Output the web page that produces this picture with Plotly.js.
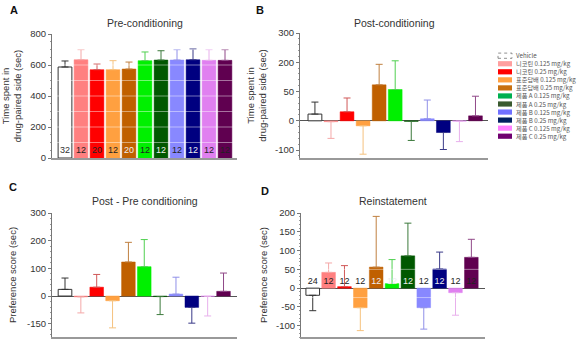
<!DOCTYPE html>
<html><head><meta charset="utf-8">
<script src="https://cdn.plot.ly/plotly-3.0.1.min.js"></script>
<style>html,body{margin:0;padding:0;background:#fff}#chart{width:585px;height:344px}</style>
</head><body><div id="chart"></div>
<script>
// ---- data ----
const categories = ['Vehicle','니코틴 0.125 mg/kg','니코틴 0.25 mg/kg','표준담배 0.125 mg/kg','표준담배 0.25 mg/kg','제품 A 0.125 mg/kg','제품 A 0.25 mg/kg','제품 B 0.125 mg/kg','제품 B 0.25 mg/kg','제품 C 0.125 mg/kg','제품 C 0.25 mg/kg'];
const barColors = ['#ffffff','#ff8080','#ff0000','#ffa040','#c06000','#00f000','#005800','#8888ff','#000080','#e080f0','#600050'];
const errColors = ['#333333','#f4a8a8','#d05858','#f5c27e','#c08040','#50d050','#3c7a3c','#9090e8','#3a3a88','#e8b0ec','#904888'];
const legendColors = ['#ffffff','#ff9f9f','#ff0000','#ffa040','#c87010','#00b050','#3a5a30','#7070ff','#002060','#ff80ff','#700070'];
const labelColors = ['#333','#222','#222','#222','#eee','#222','#eee','#222','#eee','#222','#222'];

const preMean  = [587,634,570,570,574,628,632,632,634,630,630];
const preErr   = [39,65,36,58,45,56,60,67,69,69,69];
const postMean = [23,-3,31,-17,123,107,-2,7,-40,-1,17];
const postErr  = [41,57,47,97,70,98,65,64,58,70,67];
const diffMean = [24,-3,32,-17,123,106,-2,7,-41,-1,17];
const diffErr  = [41,58,46,98,71,98,65,61,57,71,66];
const reinMean = [-19,42,4,-52,56,12,86,-52,51,-12,82];
const reinErr  = [41,25,56,61,135,64,87,57,45,60,48];
const preN  = ['32','12','20','12','20','12','12','12','12','12','12'];
const reinN = ['24','12','12','12','12','12','12','12','12','12','12'];

const panelTitles = ['Pre-conditioning','Post-conditioning','Post - Pre conditioning','Reinstatement'];
const panelLetters = ['A','B','C','D'];
const yTitles = ['Time spent in<br>drug-paired side (sec)','Time spent in<br>drug-paired side (sec)','Preference score (sec)','Preference score (sec)'];
const yTickVals = [[0,200,400,600,800],[-100,0,100,200,300],[-100,0,100,200,300],[-100,-50,0,50,100,150,200]];
const yTickText = [['0','200','400','600','800'],['-100','0','50','200','300'],['-150','0','100','200','300'],['-100','-50','0','50','100','150','200']];

// ---- layout geometry ----
const W = 585, H = 344;
const px = (a,b) => [a/W, b/W];
const py = (top,bot) => [1-bot/H, 1-top/H];
const panels = [
  {xd: px(52,237),  yd: py(34,158),  xr:[-0.8125,10.75], yr:[0,800],   mean:preMean,  err:preErr},
  {xd: px(300,488), yd: py(33,158),  xr:[-0.93,10.78],   yr:[-127,300], mean:postMean, err:postErr},
  {xd: px(52,237),  yd: py(213,337), xr:[-0.82,10.85],   yr:[-148,300], mean:diffMean, err:diffErr},
  {xd: px(301,485), yd: py(213,337), xr:[-0.74,10.86],   yr:[-130,200], mean:reinMean, err:reinErr}
];
const font = 'Liberation Sans, Arial, sans-serif';
const xIdx = categories.map((c,i)=>i);

const traces = [];
const layout = {
  width: W, height: H, margin:{l:0,r:0,t:0,b:0},
  paper_bgcolor:'#fff', plot_bgcolor:'rgba(0,0,0,0)',
  barmode:'overlay', showlegend:false, bargap:0,
  font:{family:font, size:9, color:'#333'},
  annotations:[], shapes:[]
};

panels.forEach((p,k)=>{
  const sfx = k===0 ? '' : String(k+1);
  const xa = 'x'+sfx, ya = 'y'+sfx;
  categories.forEach((c,i)=>{
    const v = p.mean[i], e = p.err[i];
    traces.push({
      type:'bar', x:[xIdx[i]], y:[v], width:0.86, name:c, xaxis:xa, yaxis:ya,
      marker:{color:barColors[i], line:{color: i===0 ? '#333' : barColors[i], width: i===0 ? 1 : 0.5}},
      error_y:{type:'data', symmetric:false, array:[v>=0?e:0], arrayminus:[v>=0?0:e], color:errColors[i], thickness:1, width:3.5},
      hoverinfo:'skip'
    });
  });
  layout['xaxis'+sfx] = {domain:p.xd, anchor:ya, range:p.xr, showgrid:false, zeroline:false, showticklabels:false, ticks:'', showline:true, linecolor:'#999', linewidth:1.5, fixedrange:true};
  layout['yaxis'+sfx] = {domain:p.yd, anchor:xa, range:p.yr, showgrid:false, tickvals:yTickVals[k], ticktext:yTickText[k],
    zeroline: k>0, zerolinecolor:'#555', zerolinewidth:1,
    showline:true, linecolor:'#777', linewidth:1, ticks:'outside', ticklen:3, tickcolor:'#777', tickfont:{size:9.5, color:'#333'},
    minor:{ticks:'outside', ticklen:1.5, tickcolor:'#999', nticks:8},
    title:{text:yTitles[k], font:{size:9.5, color:'#333'}, standoff: k%2===0 ? 8 : 6}, automargin:false, fixedrange:true};
  layout.annotations.push({xref:'paper', yref:'paper', x:(p.xd[0]+p.xd[1])/2, y: k<2 ? 1-23/H : 1-201/H, text:panelTitles[k], showarrow:false, font:{size:10.5, color:'#333'}, xanchor:'center', yanchor:'middle'});
});
// letters
[[14,10],[260,10],[13,187],[265,191]].forEach((pt,k)=>{
  layout.annotations.push({xref:'paper', yref:'paper', x:pt[0]/W, y:1-pt[1]/H, text:'<b>'+panelLetters[k]+'</b>', showarrow:false, font:{size:11, color:'#111'}, xanchor:'center', yanchor:'middle'});
});
// n labels
traces.push({type:'scatter', mode:'text', x:xIdx, y:xIdx.map(()=>50), text:preN, textfont:{size:9, color:labelColors, family:font}, xaxis:'x', yaxis:'y', hoverinfo:'skip', cliponaxis:false});
const reinLabelColors = ['#222','#222','#222','#222','#eee','#eee','#eee','#222','#eee','#222','#222'];
traces.push({type:'scatter', mode:'text', x:xIdx, y:xIdx.map(()=>17), text:reinN, textfont:{size:9, color:reinLabelColors, family:font}, xaxis:'x4', yaxis:'y4', hoverinfo:'skip', cliponaxis:false});

// faint lines over bars
[100,200,300,400,500,600,700].forEach(v=>layout.shapes.push({type:'line', xref:'x domain', yref:'y', x0:0.02, x1:0.99, y0:v, y1:v, line:{color:'rgba(255,255,255,0.45)', width:1}, layer:'above'}));
[-25,50].forEach(v=>layout.shapes.push({type:'line', xref:'x4 domain', yref:'y4', x0:0.02, x1:0.99, y0:v, y1:v, line:{color:'rgba(255,255,255,0.45)', width:1}, layer:'above'}));

// custom legend
const legTop = 55.7, legStep = 8.05;
categories.forEach((c,i)=>{
  const yc = legTop + i*legStep;
  layout.shapes.push({type:'rect', xref:'paper', yref:'paper', x0:498/W, x1:512/W, y0:1-(yc+2.6)/H, y1:1-(yc-2.6)/H,
    fillcolor:legendColors[i], line:{color: i===0 ? '#444' : legendColors[i], width: i===0 ? 0.6 : 0, dash: i===0 ? 'dot' : 'solid'}});
  layout.annotations.push({xref:'paper', yref:'paper', x:515/W, y:1-yc/H, text:c, showarrow:false, xanchor:'left', yanchor:'middle', borderpad:0, font:{size:6.2, color:'#555', family:'Noto Sans CJK KR, '+font}});
});

Plotly.newPlot('chart', traces, layout, {staticPlot:true});
</script></body></html>
